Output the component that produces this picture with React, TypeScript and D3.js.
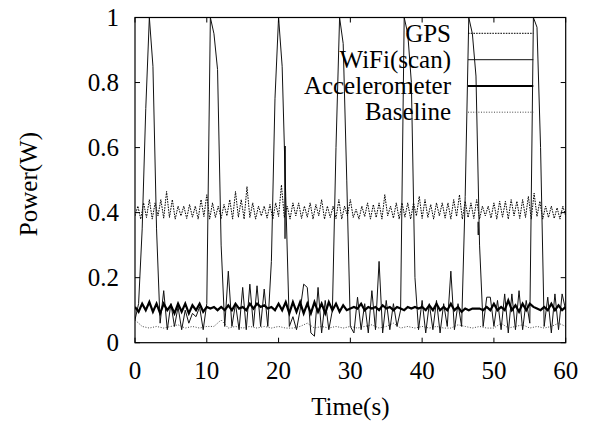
import React from "react";
import * as d3 from "d3";

const xTicks = [0, 10, 20, 30, 40, 50, 60];
const yTicks = [0, 0.2, 0.4, 0.6, 0.8, 1];
const yTickLabels = ["0", "0.2", "0.4", "0.6", "0.8", "1"];
const legendNames = ["GPS", "WiFi(scan)", "Accelerometer", "Baseline"];

// GPS: sampled every 0.4 s
const gpsStep = 0.4;
const gpsValues = [
  0.39, 0.42, 0.38, 0.43, 0.385, 0.44, 0.38, 0.43, 0.39, 0.44,
  0.383, 0.465, 0.385, 0.44, 0.38, 0.42, 0.39, 0.42, 0.382, 0.425,
  0.386, 0.42, 0.38, 0.44, 0.388, 0.455, 0.38, 0.43, 0.385, 0.42,
  0.382, 0.425, 0.39, 0.44, 0.38, 0.465, 0.386, 0.44, 0.38, 0.48,
  0.385, 0.43, 0.38, 0.42, 0.39, 0.42, 0.383, 0.425, 0.38, 0.43,
  0.388, 0.485, 0.385, 0.42, 0.38, 0.43, 0.39, 0.43, 0.382, 0.42,
  0.386, 0.43, 0.38, 0.425, 0.39, 0.44, 0.38, 0.42, 0.385, 0.42,
  0.382, 0.44, 0.38, 0.42, 0.39, 0.44, 0.385, 0.41, 0.38, 0.42,
  0.388, 0.43, 0.38, 0.425, 0.385, 0.43, 0.38, 0.455, 0.39, 0.42,
  0.383, 0.43, 0.38, 0.43, 0.386, 0.43, 0.38, 0.43, 0.39, 0.45,
  0.382, 0.44, 0.385, 0.425, 0.38, 0.43, 0.39, 0.43, 0.383, 0.43,
  0.38, 0.44, 0.388, 0.455, 0.38, 0.435, 0.385, 0.43, 0.382, 0.44,
  0.38, 0.42, 0.39, 0.42, 0.383, 0.43, 0.38, 0.435, 0.386, 0.435,
  0.38, 0.44, 0.39, 0.435, 0.382, 0.44, 0.385, 0.45, 0.38, 0.46,
  0.388, 0.435, 0.38, 0.42, 0.385, 0.42, 0.382, 0.415, 0.38, 0.42,
  0.39,
];
// short GPS glitches (time, value): dense samples that overlap into a solid stroke
const gpsGlitch1Times = [20.88, 20.9, 20.92];
const gpsGlitch1Values = [0.605, 0.32, 0.605];
const gpsGlitch2Times = [47.8, 47.82];
const gpsGlitch2Values = [0.372, 0.331];

// WiFi(scan): sampled every 0.5 s
const wifiStep = 0.5;
const wifiValues = [
  0.07, 0.12, 0.35, 0.72, 1.0, 0.85, 0.35, 0.06, 0.16, 0.04,
  0.12, 0.05, 0.11, 0.04, 0.1, 0.06, 0.09, 0.08, 0.11, 0.04,
  0.12, 1.0, 0.95, 0.84, 0.3, 0.05, 0.22, 0.05, 0.12, 0.04,
  0.17, 0.04, 0.18, 0.05, 0.175, 0.05, 0.165, 0.05, 0.25, 0.75,
  1.0, 0.85, 0.45, 0.05, 0.08, 0.04, 0.1, 0.18, 0.17, 0.03,
  0.02, 0.17, 0.03, 0.13, 0.04, 0.1, 0.6, 1.0, 0.92, 0.5,
  0.05, 0.03, 0.14, 0.04, 0.12, 0.03, 0.16, 0.04, 0.25, 0.03,
  0.13, 0.04, 0.12, 0.05, 0.1, 1.0, 0.95, 0.8, 0.2, 0.04,
  0.13, 0.03, 0.12, 0.04, 0.13, 0.03, 0.12, 0.05, 0.22, 0.04,
  0.12, 0.05, 0.45, 1.0, 0.95, 0.82, 0.3, 0.05, 0.14, 0.14,
  0.05, 0.13, 0.04, 0.15, 0.03, 0.15, 0.04, 0.16, 0.04, 0.13,
  0.06, 1.0, 0.97, 0.6, 0.05, 0.14, 0.03, 0.15, 0.04, 0.15,
  0.1,
];

// Accelerometer: sampled every 0.5 s
const accStep = 0.5;
const accValues = [
  0.11, 0.095, 0.12, 0.1, 0.125, 0.095, 0.12, 0.09, 0.12, 0.1,
  0.115, 0.09, 0.12, 0.095, 0.12, 0.09, 0.115, 0.1, 0.12, 0.095,
  0.11, 0.105, 0.11, 0.1, 0.11, 0.1, 0.115, 0.1, 0.12, 0.105,
  0.11, 0.1, 0.12, 0.105, 0.12, 0.11, 0.115, 0.105, 0.11, 0.1,
  0.12, 0.1, 0.125, 0.09, 0.125, 0.095, 0.125, 0.09, 0.12, 0.09,
  0.125, 0.095, 0.12, 0.09, 0.125, 0.1, 0.12, 0.095, 0.115, 0.1,
  0.105, 0.11, 0.105, 0.12, 0.1, 0.11, 0.105, 0.11, 0.1, 0.115,
  0.105, 0.11, 0.1, 0.11, 0.105, 0.1, 0.11, 0.105, 0.11, 0.105,
  0.11, 0.1, 0.115, 0.1, 0.12, 0.1, 0.11, 0.1, 0.12, 0.1,
  0.11, 0.095, 0.105, 0.1, 0.105, 0.105, 0.105, 0.1, 0.11, 0.1,
  0.12, 0.1, 0.11, 0.1, 0.13, 0.1, 0.115, 0.095, 0.12, 0.1,
  0.12, 0.11, 0.105, 0.1, 0.11, 0.1, 0.12, 0.1, 0.115, 0.1,
  0.11,
];

// Baseline: sampled every 1 s
const baseStep = 1;
const baseValues = [
  0.07, 0.05, 0.045, 0.05, 0.045, 0.05, 0.055, 0.045, 0.05, 0.045,
  0.05, 0.05, 0.07, 0.045, 0.05, 0.045, 0.05, 0.045, 0.05, 0.045,
  0.05, 0.045, 0.045, 0.05, 0.06, 0.045, 0.05, 0.045, 0.05, 0.045,
  0.05, 0.045, 0.05, 0.055, 0.045, 0.05, 0.06, 0.045, 0.05, 0.045,
  0.05, 0.045, 0.05, 0.045, 0.045, 0.055, 0.05, 0.045, 0.05, 0.045,
  0.045, 0.06, 0.045, 0.05, 0.055, 0.045, 0.05, 0.045, 0.05, 0.06,
  0.05,
];

const W = 589;
const H = 421;
const left = 135;
const right = 565.7;
const top = 17.5;
const bottom = 342.7;
const FONT = "'Liberation Serif', 'Times New Roman', Times, serif";
const FS = 25;

type Pt = [number, number];

function series(step: number, vals: number[]): Pt[] {
  return vals.map((v, i) => [i * step, v] as Pt);
}
function pairs(ts: number[], vs: number[]): Pt[] {
  return ts.map((t, i) => [t, vs[i]] as Pt);
}

export default function App() {
  const x = d3.scaleLinear().domain([0, 60]).range([left, right]);
  const y = d3.scaleLinear().domain([0, 1]).range([bottom, top]);
  const line = d3
    .line<Pt>()
    .x((d) => x(d[0]))
    .y((d) => y(d[1]));

  const gpsPts = series(gpsStep, gpsValues);
  const wifiPts = series(wifiStep, wifiValues);
  const accPts = series(accStep, accValues);
  const basePts = series(baseStep, baseValues);
  const glitches = [pairs(gpsGlitch1Times, gpsGlitch1Values), pairs(gpsGlitch2Times, gpsGlitch2Values)];

  const styles = [
    { stroke: "#000", width: 1, dash: "1.6,1.1" },
    { stroke: "#111", width: 1, dash: "" },
    { stroke: "#000", width: 2.2, dash: "" },
    { stroke: "#333", width: 0.9, dash: "1,1.6" },
  ];
  const data = [gpsPts, wifiPts, accPts, basePts];
  const drawOrder = [3, 0, 1, 2];
  const legendY = [33.3, 59.7, 86, 112.2];
  const tick = 5;

  return (
    <svg
      width={W}
      height={H}
      style={{ position: "absolute", left: 0, top: 0, background: "#fff" }}
      fontFamily={FONT}
    >
      <defs>
        <clipPath id="plotclip">
          <rect x={left} y={top} width={right - left} height={bottom - top} />
        </clipPath>
      </defs>
      <rect x={0} y={0} width={W} height={H} fill="#fff" />

      <g clipPath="url(#plotclip)">
        {drawOrder.map((k) => (
          <path
            key={k}
            d={line(data[k]) || ""}
            fill="none"
            stroke={styles[k].stroke}
            strokeWidth={styles[k].width}
            strokeDasharray={styles[k].dash || undefined}
            strokeLinejoin="miter"
          />
        ))}
        {glitches.map((g, i) => (
          <path key={"g" + i} d={line(g) || ""} fill="none" stroke="#000" strokeWidth={1.3} />
        ))}
      </g>

      {/* ticks */}
      {xTicks.map((t) => (
        <g key={"xt" + t}>
          <line x1={x(t)} x2={x(t)} y1={bottom} y2={bottom - tick} stroke="#000" strokeWidth={1} />
          <line x1={x(t)} x2={x(t)} y1={top} y2={top + tick} stroke="#000" strokeWidth={1} />
          <text x={x(t)} y={378.5} textAnchor="middle" fontSize={FS} fill="#000">
            {t}
          </text>
        </g>
      ))}
      {yTicks.map((t, i) => (
        <g key={"yt" + t}>
          <line x1={left} x2={left + tick} y1={y(t)} y2={y(t)} stroke="#000" strokeWidth={1} />
          <line x1={right} x2={right - tick} y1={y(t)} y2={y(t)} stroke="#000" strokeWidth={1} />
          <text x={119} y={y(t) + 8.5} textAnchor="end" fontSize={FS} fill="#000">
            {yTickLabels[i]}
          </text>
        </g>
      ))}

      <rect
        x={left}
        y={top}
        width={right - left}
        height={bottom - top}
        fill="none"
        stroke="#000"
        strokeWidth={1.2}
      />

      {/* legend */}
      {legendNames.map((name, i) => (
        <g key={name}>
          <text x={451} y={legendY[i] + 8.2} textAnchor="end" fontSize={FS} fill="#000">
            {name}
          </text>
          <line
            x1={468}
            x2={533.3}
            y1={legendY[i]}
            y2={legendY[i]}
            stroke={styles[i].stroke}
            strokeWidth={styles[i].width}
            strokeDasharray={styles[i].dash || undefined}
          />
        </g>
      ))}

      {/* axis titles */}
      <text x={(left + right) / 2} y={414.5} textAnchor="middle" fontSize={FS} fill="#000">
        Time(s)
      </text>
      <text
        transform={`translate(37, ${(top + bottom) / 2 + 4}) rotate(-90)`}
        textAnchor="middle"
        fontSize={FS}
        fill="#000"
      >
        Power(W)
      </text>
    </svg>
  );
}
